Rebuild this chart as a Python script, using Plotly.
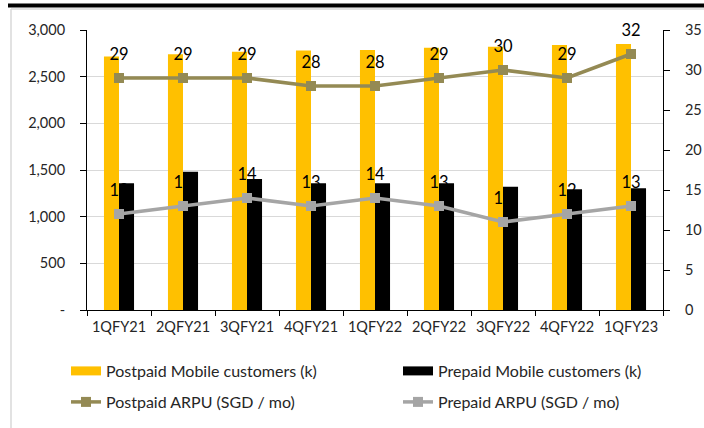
import plotly.graph_objects as go

# Quarterly mobile customer base and ARPU
quarters = ["1QFY21", "2QFY21", "3QFY21", "4QFY21", "1QFY22",
            "2QFY22", "3QFY22", "4QFY22", "1QFY23"]
postpaid_customers = [2715, 2740, 2768, 2780, 2786, 2811, 2821, 2839, 2850]
prepaid_customers = [1357, 1482, 1404, 1357, 1357, 1357, 1321, 1293, 1304]
postpaid_arpu = [29, 29, 29, 28, 28, 29, 30, 29, 32]
prepaid_arpu = [12, 13, 14, 13, 14, 13, 11, 12, 13]

left_ticks = [0, 500, 1000, 1500, 2000, 2500, 3000]
left_ticktext = ["-", "500", "1,000", "1,500", "2,000", "2,500", "3,000"]
right_ticks = [0, 5, 10, 15, 20, 25, 30, 35]

YELLOW = "#FFC000"
BLACK = "#000000"
OLIVE = "#948A54"
GREY = "#A5A5A5"
TEXT = "#262626"
FONT = "Lato"

fig = go.Figure()

# Customer bars (left axis)
fig.add_trace(go.Bar(x=quarters, y=postpaid_customers, yaxis="y2",
                     marker=dict(color=YELLOW, line=dict(width=0)),
                     name="Postpaid Mobile customers (k)", showlegend=False))
fig.add_trace(go.Bar(x=quarters, y=prepaid_customers, yaxis="y2",
                     marker=dict(color=BLACK, line=dict(width=0)),
                     name="Prepaid Mobile customers (k)", showlegend=False))

# ARPU lines (right axis scale)
fig.add_trace(go.Scatter(x=quarters, y=postpaid_arpu, yaxis="y",
                         mode="lines+markers", name="Postpaid ARPU (SGD / mo)",
                         line=dict(color=OLIVE, width=3.5),
                         marker=dict(symbol="square", size=10, color=OLIVE),
                         legend="legend3"))
fig.add_trace(go.Scatter(x=quarters, y=prepaid_arpu, yaxis="y",
                         mode="lines+markers", name="Prepaid ARPU (SGD / mo)",
                         line=dict(color=GREY, width=3.5),
                         marker=dict(symbol="square", size=10, color=GREY),
                         legend="legend4"))

# ARPU value labels above each point
for vals in (postpaid_arpu, prepaid_arpu):
    fig.add_trace(go.Scatter(
        x=quarters, y=vals, yaxis="y", mode="markers+text",
        text=[str(v) for v in vals], textposition="top center",
        textfont=dict(family=FONT, size=16.5, color=BLACK),
        marker=dict(size=20, opacity=0), showlegend=False,
        hoverinfo="skip", cliponaxis=False,
    ))

# Legend swatches for the bar series
fig.add_trace(go.Scatter(x=[None], y=[None], yaxis="y", mode="lines",
                         name="Postpaid Mobile customers (k)",
                         line=dict(color=YELLOW, width=9), legend="legend"))
fig.add_trace(go.Scatter(x=[None], y=[None], yaxis="y", mode="lines",
                         name="Prepaid Mobile customers (k)",
                         line=dict(color=BLACK, width=9), legend="legend2"))

axis_font = dict(family=FONT, size=14.5, color=TEXT)


def legend_at(px, py):
    return dict(orientation="h", xref="container", yref="container",
                x=px / 704, y=1 - py / 428, xanchor="left", yanchor="middle",
                font=dict(family=FONT, size=16, color=TEXT),
                bgcolor="rgba(0,0,0,0)", borderwidth=0)


fig.update_layout(
    width=704, height=428,
    margin=dict(l=87, r=41, t=30, b=118),
    paper_bgcolor="white", plot_bgcolor="white",
    barmode="group", bargap=0.53, bargroupgap=0,
    showlegend=True,
    legend=legend_at(66, 371),
    legend2=legend_at(398, 371),
    legend3=legend_at(66, 402),
    legend4=legend_at(398, 402),
    xaxis=dict(type="category", range=[-0.5, 8.5], tickson="boundaries",
               ticks="outside", ticklen=5, tickcolor=BLACK,
               showline=True, linecolor=BLACK, linewidth=1,
               showgrid=False, tickfont=axis_font, tickangle=0,
               ticklabelstandoff=4, automargin=False),
    yaxis2=dict(side="left", range=[0, 3000],
                tickvals=left_ticks, ticktext=left_ticktext,
                ticks="outside", ticklen=6, tickcolor=BLACK,
                showline=True, linecolor=BLACK, linewidth=1,
                showgrid=True, gridcolor="#D9D9D9", gridwidth=1,
                zeroline=False, tickfont=axis_font, ticklabelstandoff=12,
                automargin=False),
    yaxis=dict(overlaying="y2", side="right", range=[0, 35],
               tickvals=right_ticks,
               ticks="outside", ticklen=6, tickcolor=BLACK,
               showline=True, linecolor=BLACK, linewidth=1,
               showgrid=False, zeroline=False, tickfont=axis_font,
               ticklabelstandoff=12, automargin=False),
    shapes=[
        # dark rule across the top and light frame edges
        dict(type="line", xref="paper", yref="paper",
             x0=(8 - 87) / 576, x1=(704 - 87) / 576,
             y0=(310 - 5.5) / 280, y1=(310 - 5.5) / 280,
             line=dict(color=BLACK, width=4)),
        dict(type="line", xref="paper", yref="paper",
             x0=(11 - 87) / 576, x1=(704 - 87) / 576,
             y0=(310 - 9) / 280, y1=(310 - 9) / 280,
             line=dict(color="#D9D9D9", width=1.5)),
        dict(type="line", xref="paper", yref="paper",
             x0=(11 - 87) / 576, x1=(11 - 87) / 576,
             y0=(310 - 9) / 280, y1=(310 - 430) / 280,
             line=dict(color="#D9D9D9", width=1.5)),
    ],
)

fig.write_html("out.html")
